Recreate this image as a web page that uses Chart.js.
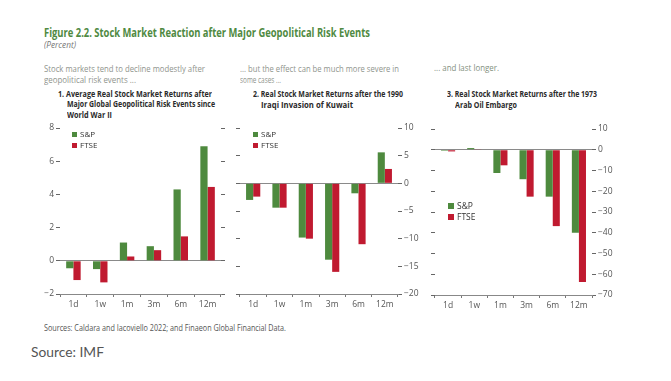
<!DOCTYPE html>
<html><head><meta charset="utf-8">
<script src="https://cdn.jsdelivr.net/npm/chart.js@4.4.1/dist/chart.umd.min.js"></script>
<style>
html,body{margin:0;padding:0;background:#fff;}
body{width:671px;height:381px;position:relative;overflow:hidden;font-family:"Liberation Sans Narrow","Open Sans",sans-serif;}
.t{position:absolute;white-space:nowrap;transform-origin:0 50%;}
.box{position:absolute;}
.lg{position:absolute;font-size:8px;color:#333;line-height:10px;white-space:nowrap;}
.lg span{display:inline-block;width:5px;height:5px;margin-right:3px;vertical-align:0px;}
</style></head>
<body>
<div id="texts"></div>
<div class="box" id="b1"><canvas id="c1"></canvas></div>
<div class="box" id="b2"><canvas id="c2"></canvas></div>
<div class="box" id="b3"><canvas id="c3"></canvas></div>
<div id="legends"></div>
<script>
// ---------- DATA ----------
const categories = ['1d', '1w', '1m', '3m', '6m', '12m'];
const seriesNames = ['S&P', 'FTSE'];
const p1SP   = [-0.45, -0.5, 1.1, 0.88, 4.3, 6.9];
const p1FTSE = [-1.16, -1.3, 0.26, 0.64, 1.47, 4.45];
const p2SP   = [-3.0, -4.4, -9.8, -13.8, -1.8, 5.6];
const p2FTSE = [-2.4, -4.4, -10.0, -16.0, -11.0, 2.6];
const p3SP   = [-0.5, 0.8, -11.2, -14.2, -22.6, -40.0];
const p3FTSE = [-0.8, 0.3, -7.5, -22.6, -36.8, -63.7];
const p1Ticks = [-2, 8, 2];   // min, max, step
const p2Ticks = [-20, 10, 5];
const p3Ticks = [-70, 10, 10];

const GREEN = '#4e8a3e', RED = '#c01a30';
const FONT = '"Liberation Sans Narrow","Open Sans",sans-serif';

// ---------- TEXT ----------
const texts = [
  {s:'Figure 2.2. Stock Market Reaction after Major Geopolitical Risk Events', x:44, y:33, w:326, fs:12, fw:'bold', c:'#4f8a42'},
  {s:'(Percent)', x:44, y:44.5, w:32, fs:9, st:'italic', c:'#777'},
  {s:'Stock markets tend to decline modestly after', x:44, y:69, w:161, fs:9.5, c:'#8f948d'},
  {s:'geopolitical risk events ...', x:44, y:80, w:92, fs:9.5, c:'#8f948d'},
  {s:'... but the effect can be much more severe in', x:240, y:69, w:159, fs:9.5, c:'#8f948d'},
  {s:'some cases ...', x:240, y:80, w:41, fs:9.5, c:'#8f948d'},
  {s:'... and last longer.', x:434, y:68, w:65, fs:9.5, c:'#839080'},
  {s:'1. Average Real Stock Market Returns after', x:58, y:93, w:154, fs:9, fw:'bold', c:'#2a2a2a'},
  {s:'Major Global Geopolitical Risk Events since', x:67, y:103.5, w:148, fs:9, fw:'bold', c:'#2a2a2a'},
  {s:'World War II', x:67, y:114, w:45, fs:9, fw:'bold', c:'#2a2a2a'},
  {s:'2. Real Stock Market Returns after the 1990', x:253, y:93, w:150, fs:9, fw:'bold', c:'#2a2a2a'},
  {s:'Iraqi Invasion of Kuwait', x:261, y:104, w:92, fs:9, fw:'bold', c:'#2a2a2a'},
  {s:'3. Real Stock Market Returns after the 1973', x:447, y:93.5, w:150, fs:9, fw:'bold', c:'#2a2a2a'},
  {s:'Arab Oil Embargo', x:455, y:104, w:62, fs:9, fw:'bold', c:'#2a2a2a'},
  {s:'Sources: Caldara and Iacoviello 2022; and Finaeon Global Financial Data.', x:44, y:328, w:242, fs:8.5, c:'#555'},
  {s:'Source: IMF', x:31, y:352, w:73, fs:14, c:'#555', ff:'Lato, "Open Sans", sans-serif'}
];
const tc = document.getElementById('texts');
texts.forEach(t => {
  const d = document.createElement('div');
  d.className = 't';
  d.textContent = t.s;
  d.style.fontSize = t.fs + 'px';
  d.style.lineHeight = t.fs + 'px';
  d.style.fontWeight = t.fw || 'normal';
  d.style.fontStyle = t.st || 'normal';
  d.style.color = t.c;
  if (t.ff) d.style.fontFamily = t.ff;
  d.style.left = t.x + 'px';
  d.style.top = (t.y - t.fs / 2) + 'px';
  tc.appendChild(d);
  const w = d.getBoundingClientRect().width;
  d.style.transform = 'scaleX(' + (t.w / w) + ')';
});

// ---------- LEGENDS ----------
const legends = [
  {x:72, y:[134, 145], fs:8, sq:5},
  {x:253, y:[133.5, 144.5], fs:8, sq:5},
  {x:448, y:[206, 217], fs:8.5, sq:6}
];
const lc = document.getElementById('legends');
legends.forEach(L => {
  seriesNames.forEach((n, i) => {
    const d = document.createElement('div');
    d.className = 'lg';
    d.style.left = L.x + 'px';
    d.style.top = (L.y[i] - 5) + 'px';
    d.style.fontSize = L.fs + 'px';
    const sq = document.createElement('span');
    sq.style.background = i === 0 ? GREEN : RED;
    sq.style.width = L.sq + 'px'; sq.style.height = L.sq + 'px';
    d.appendChild(sq);
    d.appendChild(document.createTextNode(n));
    lc.appendChild(d);
  });
});

// ---------- CHARTS ----------
const fmt = v => (v < 0 ? '\u2212' + Math.abs(v) : String(v));
function makeChart(id, boxId, box, sp, ftse, tk, labelSide, labelW) {
  const b = document.getElementById(boxId);
  b.style.left = box.l + 'px'; b.style.top = box.t + 'px';
  b.style.width = box.w + 'px'; b.style.height = box.h + 'px';
  const cv = document.getElementById(id);
  cv.width = box.w; cv.height = box.h;
  const labelAxis = {
    position: labelSide, min: tk[0], max: tk[1],
    ticks: {stepSize: tk[2], color: '#555', font: {family: FONT, size: 8.5}, padding: 2, callback: fmt},
    grid: {color: c => c.tick && c.tick.value === 0 ? '#8a8a8a' : 'rgba(0,0,0,0)', lineWidth: 1,
           tickColor: '#666', tickLength: 4, drawTicks: true},
    border: {display: false},
    afterFit: s => { s.width = labelW; }
  };
  const markAxis = {
    position: labelSide === 'left' ? 'right' : 'left', min: tk[0], max: tk[1],
    ticks: {display: false, stepSize: tk[2]},
    grid: {drawOnChartArea: false, tickColor: '#666', tickLength: 4},
    border: {display: false},
    afterFit: s => { s.width = 4; }
  };
  return new Chart(cv, {
    type: 'bar',
    data: {
      labels: categories,
      datasets: [
        {label: seriesNames[0], data: sp, backgroundColor: GREEN, yAxisID: 'y'},
        {label: seriesNames[1], data: ftse, backgroundColor: RED, yAxisID: 'y'}
      ]
    },
    options: {
      responsive: false, animation: false, devicePixelRatio: 1,
      layout: {padding: {top: 8, bottom: 0, left: 0, right: 0}},
      datasets: {bar: {barPercentage: 1.0, categoryPercentage: 0.54}},
      plugins: {legend: {display: false}, tooltip: {enabled: false}},
      scales: {
        x: {
          offset: true,
          ticks: {color: '#555', font: {family: FONT, size: 8.5}, padding: 2},
          grid: {offset: true, drawOnChartArea: false, tickColor: '#777', tickLength: 3},
          border: {display: true, color: '#888'},
          afterFit: s => { s.height = 16; }
        },
        y: labelAxis,
        y2: markAxis
      }
    }
  });
}
makeChart('c1', 'b1', {l: 20, t: 120, w: 205, h: 190}, p1SP, p1FTSE, p1Ticks, 'left', 40);
makeChart('c2', 'b2', {l: 236, t: 120, w: 184, h: 190}, p2SP, p2FTSE, p2Ticks, 'right', 22);
makeChart('c3', 'b3', {l: 431, t: 121, w: 183, h: 190}, p3SP, p3FTSE, p3Ticks, 'right', 22);
</script>
</body></html>
